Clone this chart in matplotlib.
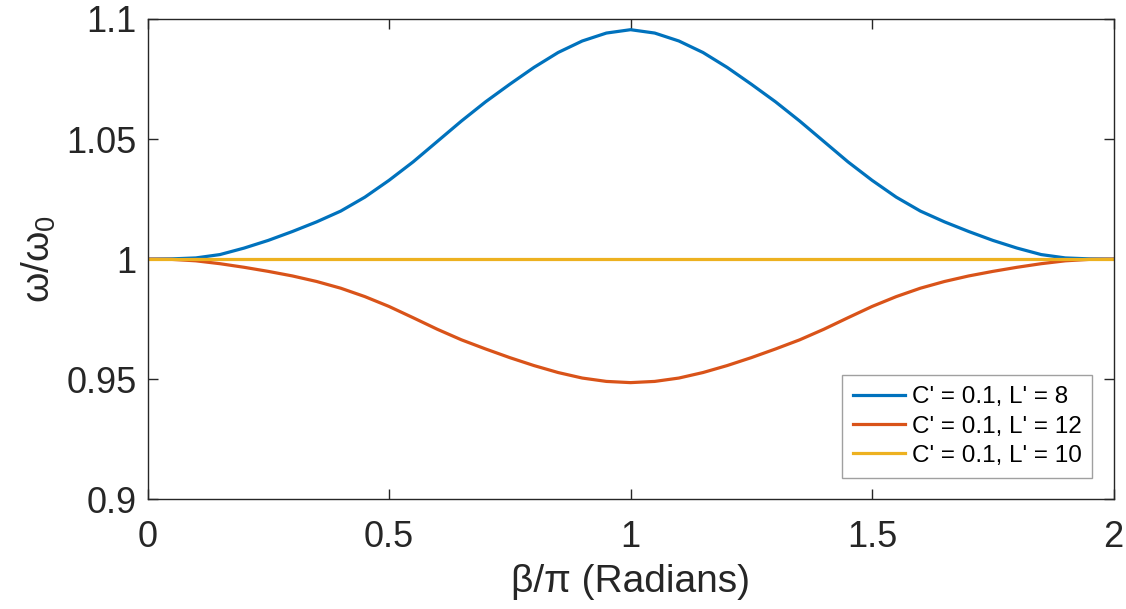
import matplotlib
matplotlib.use("Agg")
import matplotlib.pyplot as plt

plt.rcParams['font.family'] = ['Liberation Sans', 'DejaVu Sans']
plt.rcParams['mathtext.fontset'] = 'custom'
plt.rcParams['mathtext.rm'] = 'Liberation Sans'

beta = [0.00, 0.05, 0.10, 0.15, 0.20, 0.25, 0.30, 0.35, 0.40, 0.45, 0.50,
        0.55, 0.60, 0.65, 0.70, 0.75, 0.80, 0.85, 0.90, 0.95, 1.00,
        1.05, 1.10, 1.15, 1.20, 1.25, 1.30, 1.35, 1.40, 1.45, 1.50,
        1.55, 1.60, 1.65, 1.70, 1.75, 1.80, 1.85, 1.90, 1.95, 2.00]

w_L8 = [1.0000, 1.0001, 1.0005, 1.0019, 1.0046, 1.0078, 1.0115, 1.0155, 1.0200, 1.0258, 1.0328,
        1.0405, 1.0490, 1.0575, 1.0655, 1.0728, 1.0798, 1.0860, 1.0908, 1.0941, 1.0955,
        1.0941, 1.0908, 1.0860, 1.0798, 1.0728, 1.0655, 1.0575, 1.0490, 1.0405, 1.0328,
        1.0258, 1.0200, 1.0155, 1.0115, 1.0078, 1.0046, 1.0019, 1.0005, 1.0001, 1.0000]

w_L12 = [1.0000, 0.9999, 0.9993, 0.9981, 0.9966, 0.9949, 0.9930, 0.9907, 0.9879, 0.9844, 0.9803,
         0.9756, 0.9708, 0.9664, 0.9626, 0.9590, 0.9557, 0.9528, 0.9505, 0.9491, 0.9486,
         0.9491, 0.9505, 0.9528, 0.9557, 0.9590, 0.9626, 0.9664, 0.9708, 0.9756, 0.9803,
         0.9844, 0.9879, 0.9907, 0.9930, 0.9949, 0.9966, 0.9981, 0.9993, 0.9999, 1.0000]

w_L10 = [1.0] * len(beta)

labels = ["C' = 0.1, L' = 8", "C' = 0.1, L' = 12", "C' = 0.1, L' = 10"]
colors = ['#0072BD', '#D95319', '#EDB120']

xticks = [0, 0.5, 1, 1.5, 2]
xticklabels = ['0', '0.5', '1', '1.5', '2']
yticks = [0.9, 0.95, 1.0, 1.05, 1.1]
yticklabels = ['0.9', '0.95', '1', '1.05', '1.1']

fig = plt.figure(figsize=(11.26, 6.09), dpi=100)
ax = fig.add_axes([0.131, 0.180, 0.858, 0.789])

for y, lab, c in zip([w_L8, w_L12, w_L10], labels, colors):
    ax.plot(beta, y, color=c, lw=2.3, label=lab, solid_joinstyle='round')

ax.set_xlim(0, 2)
ax.set_ylim(0.9, 1.1)
ax.set_xticks(xticks)
ax.set_xticklabels(xticklabels)
ax.set_yticks(yticks)
ax.set_yticklabels(yticklabels)

axcol = '#262626'
for s in ax.spines.values():
    s.set_color(axcol)
    s.set_linewidth(1.0)
ax.tick_params(direction='in', length=7, width=1.0, colors=axcol,
               labelsize=26, top=True, right=True)
ax.tick_params(axis='x', pad=15)
ax.tick_params(axis='y', pad=8)
ax.set_xlabel('β/π (Radians)', fontsize=28, color=axcol, labelpad=6)
ax.set_ylabel('ω/ω$_\\mathregular{0}$', fontsize=28, color=axcol, labelpad=6)

leg = ax.legend(loc='lower right', bbox_to_anchor=(0.978, 0.045), fontsize=17.5,
                frameon=True, fancybox=False, framealpha=1, edgecolor='#a0a0a0',
                handlelength=2.15, handletextpad=0.25, borderpad=0.45, labelspacing=0.3,
                borderaxespad=0)
leg.get_frame().set_linewidth(1.0)

fig.savefig('out.png', dpi=100)
